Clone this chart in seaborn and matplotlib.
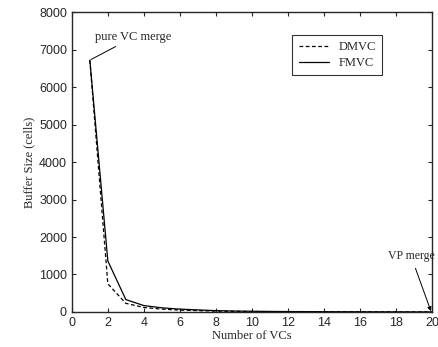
import numpy as np
import matplotlib
matplotlib.use("Agg")
import matplotlib.pyplot as plt
import pandas as pd
import seaborn as sns

num_vcs = [1, 2, 3, 4, 5, 6, 7, 8, 9, 10, 11, 12, 13, 14, 15, 16, 17, 18, 19, 20]
dmvc = [6720, 750, 230, 120, 75, 50, 35, 22, 15, 12, 9, 7, 6, 5, 4, 3, 2, 2, 1, 0]
fmvc = [6720, 1360, 330, 170, 110, 75, 55, 35, 25, 18, 14, 11, 9, 7, 5, 4, 3, 2, 1, 0]

df = pd.DataFrame({"vcs": num_vcs * 2,
                   "buf": dmvc + fmvc,
                   "scheme": ["DMVC"] * len(dmvc) + ["FMVC"] * len(fmvc)})

sns.set_style("ticks")
plt.rcParams["font.family"] = ["Liberation Serif", "DejaVu Serif"]

fig = plt.figure(figsize=(4.38, 3.47), dpi=100)
ax = fig.add_axes([0.164, 0.101, 0.822, 0.864])

sns.lineplot(data=df, x="vcs", y="buf", hue="scheme", style="scheme",
             palette={"DMVC": "black", "FMVC": "black"},
             dashes={"DMVC": (3, 2), "FMVC": ""},
             linewidth=0.9, ax=ax)

ax.set_xlim(0, 20)
ax.set_ylim(0, 8000)
ax.set_xticks(range(0, 21, 2))
ax.set_yticks(range(0, 8001, 1000))
ax.set_xlabel("Number of VCs", fontsize=9, labelpad=1)
ax.set_ylabel("Buffer Size (cells)", fontsize=9, labelpad=3)
for lab in ax.get_xticklabels() + ax.get_yticklabels():
    lab.set_fontfamily("Liberation Sans")
    lab.set_fontsize(9)
ax.tick_params(direction="in", length=3, top=True, right=True, width=0.8)
for s in ax.spines.values():
    s.set_linewidth(1.0)

leg = ax.legend(loc="upper left", bbox_to_anchor=(0.595, 0.945), fontsize=9,
                frameon=True, fancybox=False, edgecolor="black",
                handlelength=2.4, borderpad=0.5, labelspacing=0.3)
leg.get_frame().set_linewidth(0.8)

ax.annotate("pure VC merge", xy=(1, 6720), xytext=(1.3, 7250), fontsize=9,
            arrowprops=dict(arrowstyle="-", color="black", lw=0.7,
                            shrinkA=0, shrinkB=1))
ax.annotate("VP merge", xy=(19.95, 20), xytext=(18.85, 1480), fontsize=8.5,
            ha="center", va="center",
            arrowprops=dict(arrowstyle="-|>", color="black", lw=0.7,
                            mutation_scale=6, shrinkA=2, shrinkB=0))

fig.savefig("out.png", dpi=100)
